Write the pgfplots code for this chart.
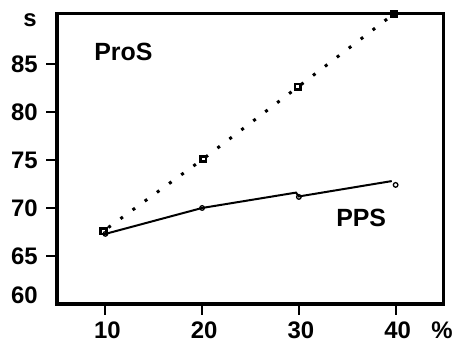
\documentclass[border=0pt]{standalone}
\usepackage{pgfplots}
\pgfplotsset{compat=1.18}
\usepackage{fontspec}
\setmainfont{Liberation Sans}
\begin{document}
\begin{tikzpicture}
\begin{axis}[
  scale only axis,
  width=387bp, height=290bp,
  xmin=5, xmax=45, ymin=60, ymax=90.2,
  xtick={10,20,30,40}, ytick={65,70,75,80,85},
  xtick pos=left, ytick pos=left,
  tick align=outside,
  major tick length=11bp,
  axis line style={line width=3bp},
  every tick/.style={black, line width=2.2bp},
  /pgf/number format/assume math mode=true,
  ticklabel style={font=\fontsize{24}{28}\selectfont\bfseries},
  yticklabel style={anchor=east, inner sep=0pt, xshift=-8bp},
  xticklabel style={anchor=north, inner sep=0pt, yshift=-7bp, xshift=2bp},
  clip=false,
]
\addplot[black, line width=3bp, line cap=butt, dash pattern=on 3bp off 12bp, dash phase=9bp]
  coordinates {(9.8,67.6) (20.1,75.1) (29.9,82.6) (39.8,90.2)};
\addplot[only marks, mark=square, mark size=2.8pt, mark options={line width=2.6bp, black}]
  coordinates {(9.8,67.6) (20.1,75.1) (29.9,82.6) (39.8,90.2)};
\addplot[black, line width=2bp]
  coordinates {(10,67.3) (20,70.0) (29.7,71.6) (30,71.2) (39.6,72.8)};
\addplot[only marks, mark=o, mark size=2.3pt, mark options={line width=1.3bp, black, fill=white}]
  coordinates {(10,67.3) (20,70.0) (30,71.15) (40,72.4)};
\node[anchor=west, font=\fontsize{25}{30}\selectfont\bfseries] at (axis cs:8.5,86.2) {ProS};
\node[anchor=west, font=\fontsize{25}{30}\selectfont\bfseries] at (axis cs:33.5,69.0) {PPS};
\node[anchor=east, inner sep=0pt, font=\fontsize{24}{28}\selectfont\bfseries] at (axis cs:5,60) [xshift=-19bp, yshift=9bp] {60};
\node[anchor=center, inner sep=0pt, font=\fontsize{24}{28}\selectfont\bfseries] at (axis cs:5,90.2) [xshift=-27bp, yshift=-6bp] {s};
\node[anchor=center, inner sep=0pt, font=\fontsize{24}{28}\selectfont\bfseries] at (axis cs:45,60) [xshift=-2bp, yshift=-26bp] {\%};
\end{axis}
\pgfresetboundingbox
\path (current axis.south west) ++(-57bp,-39bp) rectangle ++(454bp,343bp);
\end{tikzpicture}
\end{document}
